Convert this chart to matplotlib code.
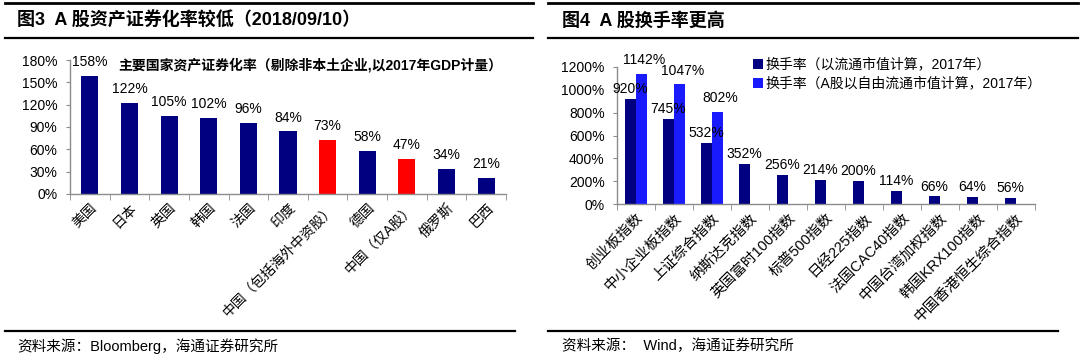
import matplotlib
matplotlib.use("Agg")
import matplotlib.pyplot as plt
from matplotlib.lines import Line2D
import numpy as np

plt.rcParams['font.family'] = ['Liberation Sans', 'Noto Sans CJK SC']

# 图3 数据
paises = ["美国", "日本", "英国", "韩国", "法国", "印度", "中国（包括海外中资股）",
          "德国", "中国（仅A股）", "俄罗斯", "巴西"]
tasa_titularizacion = [158, 122, 105, 102, 96, 84, 73, 58, 47, 34, 21]
destacados = ["中国（包括海外中资股）", "中国（仅A股）"]

# 图4 数据
indices = ["创业板指数", "中小企业板指数", "上证综合指数", "纳斯达克指数", "英国富时100指数",
           "标普500指数", "日经225指数", "法国CAC40指数", "中国台湾加权指数",
           "韩国KRX100指数", "中国香港恒生综合指数"]
rotacion = [920, 745, 532, 352, 256, 214, 200, 114, 66, 64, 56]
rotacion_libre = [1142, 1047, 802]
serie1 = "换手率（以流通市值计算，2017年）"
serie2 = "换手率（A股以自由流通市值计算，2017年）"

NAVY = "#000080"
RED = "#ff0000"
BLUE = "#1a1aff"
GRIS = "#8c8c8c"

fig = plt.figure(figsize=(10.8, 3.59), dpi=100)
W, H = 1080, 359


def fx(px):
    return px / W


def fy(py):
    return 1 - py / H


def linea(x0, x1, y, lw=1.6):
    fig.add_artist(Line2D([fx(x0), fx(x1)], [fy(y), fy(y)], color="black", lw=lw,
                          transform=fig.transFigure))


def estilo_ejes(ax, n, tam_x):
    for s in ["top", "right"]:
        ax.spines[s].set_visible(False)
    for s in ["left", "bottom"]:
        ax.spines[s].set_color(GRIS)
        ax.spines[s].set_linewidth(1.0)
    ax.set_xlim(-0.5, n - 0.5)
    ax.set_xticks(np.arange(n))
    ax.set_xticks(np.arange(n + 1) - 0.5, minor=True)
    ax.tick_params(axis="x", which="major", length=0, pad=5, labelsize=tam_x)
    ax.tick_params(axis="x", which="minor", length=4, color=GRIS, direction="out")
    ax.tick_params(axis="y", length=3, color=GRIS, labelsize=10, pad=6)


# ---- 图3 ----
linea(5, 533, 3, 2.0)
linea(5, 533, 38, 1.6)
linea(5, 515, 331, 1.6)
fig.text(fx(17), fy(21), "图3  A 股资产证券化率较低（2018/09/10）", fontsize=13,
         fontweight="bold", va="center", ha="left")
fig.text(fx(17), fy(346), "资料来源：Bloomberg，海通证券研究所", fontsize=10.5,
         va="center", ha="left")

ax1 = fig.add_axes([fx(70), fy(194), fx(506) - fx(70), fy(60) - fy(194)])
x = np.arange(len(paises))
colores = [RED if p in destacados else NAVY for p in paises]
barras = ax1.bar(x, tasa_titularizacion, width=0.43, color=colores)
ax1.set_ylim(0, 180)
ax1.set_yticks(np.arange(0, 181, 30))
ax1.set_yticklabels([f"{v}%" for v in range(0, 181, 30)])
estilo_ejes(ax1, len(paises), 10)
ax1.set_xticklabels(paises, rotation=45, ha="right", rotation_mode="anchor")
for b, v in zip(barras, tasa_titularizacion):
    ax1.annotate(f"{v}%", (b.get_x() + b.get_width() / 2, v), xytext=(0, 5),
                 textcoords="offset points", ha="center", va="bottom", fontsize=10)
ax1.text(0.55, 0.965, "主要国家资产证券化率（剔除非本土企业,以2017年GDP计量）",
         transform=ax1.transAxes, ha="center", va="center", fontsize=10, fontweight="bold")

# ---- 图4 ----
linea(548, 1078, 3, 2.0)
linea(548, 1078, 38, 1.6)
linea(548, 1058, 331, 1.6)
fig.text(fx(562), fy(21), "图4  A 股换手率更高", fontsize=13,
         fontweight="bold", va="center", ha="left")
fig.text(fx(562), fy(346), "资料来源：  Wind，海通证券研究所", fontsize=10.5,
         va="center", ha="left")

ax2 = fig.add_axes([fx(617), fy(204), fx(1035) - fx(617), fy(67) - fy(204)])
x2 = np.arange(len(indices))
w = 0.29
b1 = ax2.bar(x2 - w / 2, rotacion, width=w, color=NAVY, label=serie1)
b2 = ax2.bar(x2[:len(rotacion_libre)] + w / 2, rotacion_libre, width=w, color=BLUE,
             label=serie2)
ax2.set_ylim(0, 1200)
ax2.set_yticks(np.arange(0, 1201, 200))
ax2.set_yticklabels([f"{v}%" for v in range(0, 1201, 200)])
estilo_ejes(ax2, len(indices), 10.5)
ax2.set_xticklabels(indices, rotation=45, ha="right", rotation_mode="anchor")
for b, v in zip(b1, rotacion):
    ax2.annotate(f"{v}%", (b.get_x() + b.get_width() / 2, v), xytext=(0, 2),
                 textcoords="offset points", ha="center", va="bottom", fontsize=10)
for b, v in zip(b2, rotacion_libre):
    ax2.annotate(f"{v}%", (b.get_x() + b.get_width() / 2, v), xytext=(2, 5),
                 textcoords="offset points", ha="center", va="bottom", fontsize=10)
ax2.legend(loc="upper left", bbox_to_anchor=(0.325, 1.068), frameon=False, fontsize=10,
           handlelength=0.7, handleheight=0.7, handletextpad=0.2, labelspacing=0.35,
           borderpad=0, borderaxespad=0)

fig.savefig("out.png", dpi=100)
